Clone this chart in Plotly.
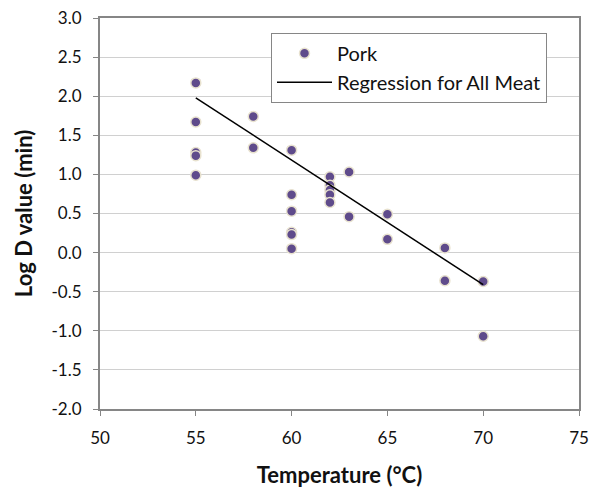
import plotly.graph_objects as go

# Pork data: temperature (°C) and log D value (min)
temp = [55, 55, 55, 55, 55,
        58, 58,
        60, 60, 60, 60, 60, 60,
        62, 62, 62, 62, 62,
        63, 63,
        65, 65,
        68, 68,
        70, 70]
log_d = [2.17, 1.67, 1.28, 1.24, 0.99,
         1.74, 1.34,
         1.31, 0.74, 0.53, 0.26, 0.23, 0.05,
         0.97, 0.86, 0.80, 0.74, 0.64,
         1.03, 0.46,
         0.49, 0.17,
         0.06, -0.36,
         -0.37, -1.07]

# Regression for all meat (end points)
reg_temp = [55, 70]
reg_log_d = [1.98, -0.41]

# Axis ticks
x_ticks = [50, 55, 60, 65, 70, 75]
y_ticks = [-2.0, -1.5, -1.0, -0.5, 0.0, 0.5, 1.0, 1.5, 2.0, 2.5, 3.0]
y_tick_labels = ["-2.0", "-1.5", "-1.0", "-0.5", "0.0", "0.5", "1.0", "1.5", "2.0", "2.5", "3.0"]

FONT = "Lato, 'Open Sans', sans-serif"

fig = go.Figure()
fig.add_trace(go.Scatter(
    x=temp, y=log_d, mode="markers", name="Pork",
    marker=dict(size=10, color="#5F4B8B", line=dict(color="#E8E2CF", width=1.5)),
))
fig.add_trace(go.Scatter(
    x=reg_temp, y=reg_log_d, mode="lines", name="Regression for All Meat",
    line=dict(color="black", width=1.5),
))

axis_common = dict(
    showline=True, linecolor="#868686", linewidth=2, mirror=True,
    ticks="outside", tickcolor="#868686", ticklen=5, tickwidth=1,
    tickfont=dict(family=FONT, size=17, color="#111111"),
    zeroline=False, ticklabeloverflow="allow", ticklabelstandoff=8,
)

fig.update_layout(
    width=595, height=484,
    margin=dict(l=92, r=24, t=10, b=83, autoexpand=False),
    paper_bgcolor="white", plot_bgcolor="white",
    showlegend=True,
    legend=dict(
        x=0.357, y=0.962, xanchor="left", yanchor="top",
        bgcolor="white", bordercolor="#868686", borderwidth=1,
        font=dict(family=FONT, size=20, color="#111111"),
        itemwidth=55,
    ),
    xaxis=dict(
        range=[50, 75], tickvals=x_ticks, showgrid=False,
        title=dict(text="<b>Temperature (°C)</b>", font=dict(family=FONT, size=22, color="#111111"), standoff=20),
        **axis_common,
    ),
    yaxis=dict(
        range=[-2, 3], tickvals=y_ticks, ticktext=y_tick_labels,
        showgrid=True, gridcolor="#D0D0D0", gridwidth=1,
        title=dict(text="<b>Log D value (min)</b>", font=dict(family=FONT, size=22, color="#111111"), standoff=13),
        **axis_common,
    ),
)

fig.write_html("out.html")
